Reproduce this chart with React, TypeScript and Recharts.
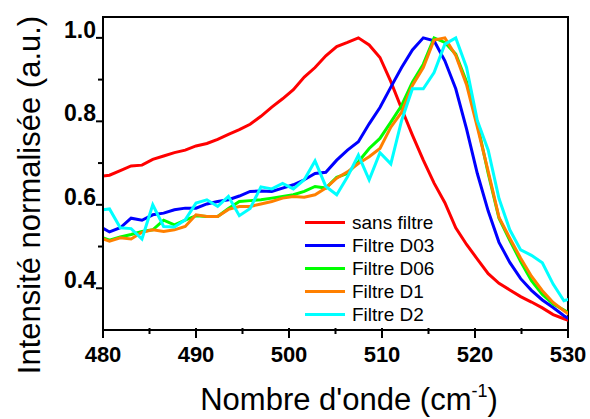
import React from 'react';
import {
  LineChart, Line, XAxis, YAxis, Legend, ReferenceArea, Label,
} from 'recharts';

// wavenumber (cm-1) of each sample, spectra share the same grid
const WAVENUMBER = [
  479.54, 480.70, 481.86, 483.02, 484.19, 485.35, 486.52, 487.68, 488.84, 490.00,
  491.17, 492.33, 493.49, 494.66, 495.82, 496.98, 498.15, 499.31, 500.47, 501.64,
  502.80, 503.96, 505.13, 506.29, 507.46, 508.62, 509.78, 510.95, 512.11, 513.27,
  514.44, 515.60, 516.76, 517.93, 519.09, 520.25, 521.42, 522.58, 523.74, 524.91,
  526.07, 527.24, 528.40, 529.56, 530.73,
];

const SANS_FILTRE = [
  0.668, 0.671, 0.682, 0.693, 0.695, 0.709, 0.717, 0.725, 0.731, 0.741,
  0.747, 0.757, 0.769, 0.780, 0.793, 0.812, 0.834, 0.854, 0.876, 0.906,
  0.929, 0.957, 0.979, 0.989, 1.000, 0.983, 0.953, 0.895, 0.830, 0.767,
  0.707, 0.652, 0.605, 0.545, 0.505, 0.470, 0.435, 0.412, 0.396, 0.380,
  0.367, 0.353, 0.337, 0.327, 0.318,
];

const FILTRE_D03 = [
  0.550, 0.535, 0.545, 0.568, 0.563, 0.576, 0.580, 0.588, 0.592, 0.592,
  0.602, 0.608, 0.612, 0.621, 0.632, 0.633, 0.632, 0.640, 0.648, 0.660,
  0.675, 0.678, 0.707, 0.731, 0.751, 0.794, 0.833, 0.882, 0.929, 0.971,
  1.000, 0.993, 0.945, 0.878, 0.782, 0.675, 0.585, 0.510, 0.462, 0.423,
  0.395, 0.372, 0.354, 0.334, 0.318,
];

const FILTRE_D06 = [
  0.525, 0.515, 0.523, 0.529, 0.536, 0.540, 0.563, 0.552, 0.563, 0.574,
  0.572, 0.572, 0.591, 0.608, 0.610, 0.612, 0.616, 0.620, 0.624, 0.632,
  0.644, 0.640, 0.666, 0.675, 0.703, 0.735, 0.759, 0.798, 0.838, 0.894,
  0.937, 1.000, 0.989, 0.961, 0.895, 0.795, 0.675, 0.568, 0.515, 0.464,
  0.418, 0.385, 0.362, 0.348, 0.332,
];

const FILTRE_D1 = [
  0.522, 0.513, 0.521, 0.518, 0.534, 0.540, 0.536, 0.540, 0.548, 0.576,
  0.572, 0.572, 0.589, 0.596, 0.596, 0.602, 0.608, 0.616, 0.620, 0.618,
  0.624, 0.640, 0.664, 0.679, 0.699, 0.715, 0.735, 0.786, 0.822, 0.886,
  0.929, 0.995, 1.000, 0.958, 0.888, 0.786, 0.680, 0.570, 0.520, 0.472,
  0.429, 0.394, 0.366, 0.346, 0.328,
];

const FILTRE_D2 = [
  0.587, 0.590, 0.545, 0.543, 0.518, 0.600, 0.548, 0.547, 0.564, 0.604,
  0.612, 0.596, 0.620, 0.574, 0.591, 0.643, 0.638, 0.651, 0.638, 0.660,
  0.705, 0.644, 0.624, 0.667, 0.719, 0.660, 0.725, 0.698, 0.802, 0.878,
  0.878, 0.917, 0.985, 1.000, 0.929, 0.802, 0.731, 0.615, 0.540, 0.492,
  0.479, 0.461, 0.410, 0.370, 0.378,
];

const X_TICKS = [480, 485, 490, 495, 500, 505, 510, 515, 520, 525, 530];
const Y_TICKS = [0.4, 0.5, 0.6, 0.7, 0.8, 0.9, 1.0];

const SERIES = [
  { key: 'sans', name: 'sans filtre', color: '#ff0000', values: SANS_FILTRE },
  { key: 'd03', name: 'Filtre D03', color: '#0000ff', values: FILTRE_D03 },
  { key: 'd06', name: 'Filtre D06', color: '#00ff00', values: FILTRE_D06 },
  { key: 'd1', name: 'Filtre D1', color: '#ff8000', values: FILTRE_D1 },
  { key: 'd2', name: 'Filtre D2', color: '#00ffff', values: FILTRE_D2 },
];

const data = WAVENUMBER.map((x, i) => {
  const row: Record<string, number> = { x };
  SERIES.forEach(s => { row[s.key] = s.values[i]; });
  return row;
});

const FONT = "'Liberation Sans', Arial, sans-serif";

function XTick({ x, y, payload }: any) {
  const major = payload.value % 10 === 0;
  return (
    <g>
      <line x1={x} x2={x} y1={y - 2} y2={y + (major ? 8 : 4)} stroke="#000" strokeWidth={2} />
      {major && (
        <text x={x} y={y + 32} textAnchor="middle" fontSize={22} fontWeight="bold" fontFamily={FONT} fill="#000">
          {payload.value}
        </text>
      )}
    </g>
  );
}

function YTick({ x, y, payload }: any) {
  const major = Math.round(payload.value * 10) % 2 === 0;
  return (
    <g>
      <line x1={x} x2={x - (major ? 7 : 5)} y1={y} y2={y} stroke="#000" strokeWidth={2} />
      {major && (
        <text x={x - 7} y={y} textAnchor="end" fontSize={23} fontWeight="bold" fontFamily={FONT} fill="#000">
          {payload.value.toFixed(1)}
        </text>
      )}
    </g>
  );
}

function LegendBox() {
  return (
    <div style={{ fontFamily: FONT, fontSize: 19, fontWeight: 'normal', color: '#000' }}>
      {SERIES.map(s => (
        <div key={s.key} style={{ display: 'flex', alignItems: 'center', height: 23.1, whiteSpace: 'nowrap' }}>
          <span style={{ display: 'inline-block', width: 40, height: 3, background: s.color, marginRight: 7 }} />
          <span>{s.name}</span>
        </div>
      ))}
    </div>
  );
}

export default function App() {
  return (
    <div style={{ position: 'absolute', left: 0, top: 0, width: 590, height: 419, background: '#fff' }}>
      <LineChart width={590} height={419} data={data} margin={{ top: 17, right: 22, bottom: 0, left: 0 }}>
        <XAxis
          dataKey="x"
          type="number"
          domain={[480, 530]}
          allowDataOverflow
          ticks={X_TICKS}
          interval={0}
          height={89}
          tickSize={0}
          tickMargin={0}
          tickLine={false}
          axisLine={{ stroke: '#000', strokeWidth: 2 }}
          tick={<XTick />}
        >
          <Label
            content={() => (
              <text x={349} y={410} textAnchor="middle" fontSize={31} fontFamily={FONT} fill="#000">
                Nombre d'onde (cm
                <tspan fontSize={18} dy={-13}>-1</tspan>
                <tspan dy={13}>)</tspan>
              </text>
            )}
          />
        </XAxis>
        <YAxis
          type="number"
          domain={[0.3, 1.05]}
          allowDataOverflow
          ticks={Y_TICKS}
          interval={0}
          width={103}
          tickSize={0}
          tickMargin={0}
          tickLine={false}
          axisLine={{ stroke: '#000', strokeWidth: 2 }}
          tick={<YTick />}
        >
          <Label
            content={() => (
              <text
                x={40}
                y={195}
                transform="rotate(-90, 40, 195)"
                textAnchor="middle"
                fontSize={31}
                fontFamily={FONT}
                fill="#000"
              >
                Intensité normalisée (a.u.)
              </text>
            )}
          />
        </YAxis>
        <ReferenceArea x1={480} x2={530} y1={0.3} y2={1.05} fill="none" stroke="#000" strokeWidth={2} />
        {SERIES.map(s => (
          <Line
            key={s.key}
            dataKey={s.key}
            name={s.name}
            stroke={s.color}
            strokeWidth={3}
            dot={false}
            type="linear"
            isAnimationActive={false}
          />
        ))}
        <Legend
          layout="vertical"
          align="center"
          verticalAlign="middle"
          wrapperStyle={{ position: 'absolute', left: 305, top: 211, width: 'auto' }}
          content={<LegendBox />}
        />
      </LineChart>
    </div>
  );
}
